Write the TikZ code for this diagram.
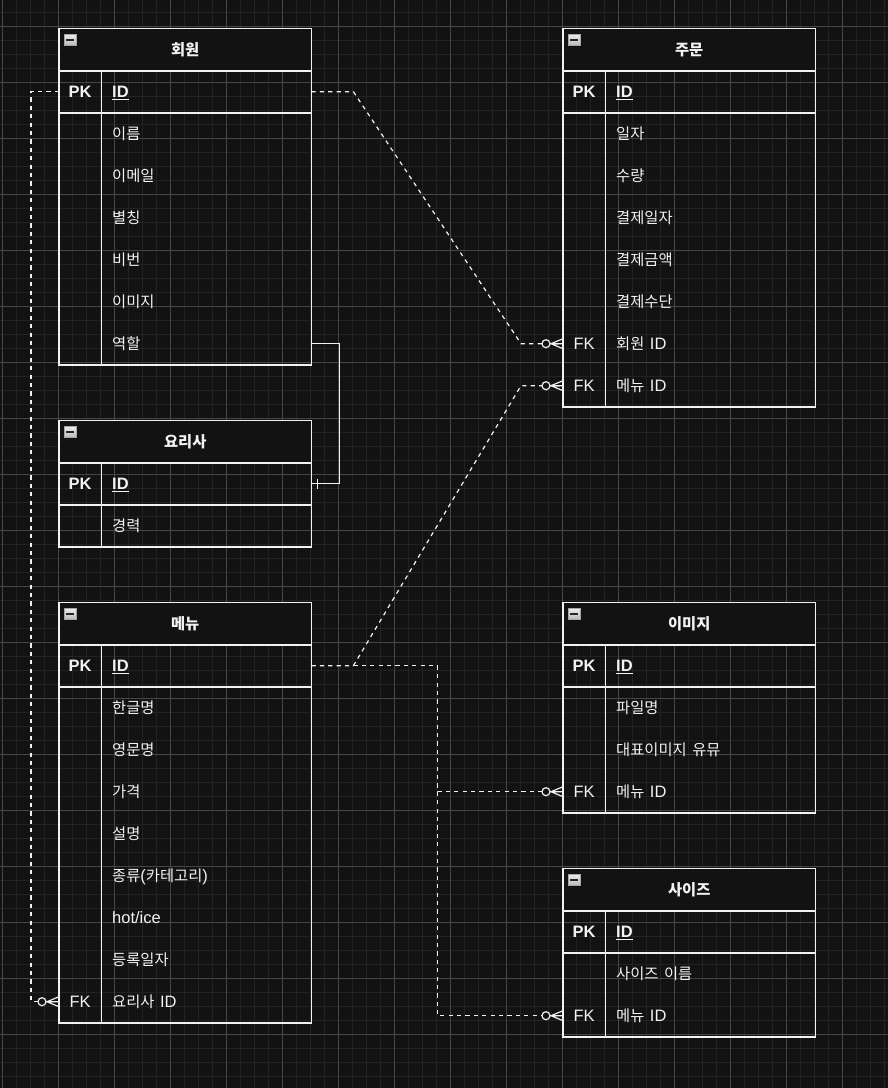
\documentclass[tikz,border=0pt]{standalone}
\usepackage{fontspec}
\setmainfont{Liberation Sans}
\newfontfamily\kr{Noto Sans CJK KR}[Scale=0.93]
\newcommand\K[1]{{\kr #1}}
\usetikzlibrary{calc}
\definecolor{bg}{HTML}{121212}
\definecolor{gmin}{HTML}{222222}
\definecolor{gmaj}{HTML}{464646}
\definecolor{ink}{HTML}{F2F2F2}
\tikzset{
  hdr/.style={rectangle, fill=bg, minimum width=252pt, minimum height=42pt, anchor=north west,
    inner sep=0pt, font=\fontsize{16.5}{18}\selectfont\bfseries, text=ink, text height=13pt, text depth=1pt},
  keyc/.style={rectangle, minimum width=42pt, minimum height=42pt, inner sep=0pt, anchor=north west,
    font=\fontsize{16.5}{18}\selectfont, text=ink, text height=13pt, text depth=1pt},
  fld/.style={rectangle, minimum width=210pt, minimum height=42pt, inner xsep=11pt, inner ysep=0pt,
    text width=188pt, align=left, anchor=north west,
    font=\fontsize{16.5}{18}\selectfont, text=ink, text height=13pt, text depth=1pt},
  tline/.style={draw=ink, line width=1.3pt},
  conn/.style={draw=ink, line width=1.2pt, dash pattern=on 4.2pt off 4.2pt},
  rel/.style={draw=ink, line width=1.2pt},
  ic/.style={rectangle, minimum width=12pt, minimum height=11pt, inner sep=0pt, draw=gray!70,
    line width=0.6pt, top color=gray!15, bottom color=gray!55,
    path picture={\draw[line width=1.8pt, black!85]
      ([xshift=-3.6pt]path picture bounding box.center) -- ([xshift=3.6pt]path picture bounding box.center);}},
}
\newcommand\erow[5]{\node[keyc] (#1k) at (#2,#3) {#4};\node[fld] (#1) at (#2+42,#3) {#5};}
\newcommand\etab[4]{\node[hdr] (#1) at (#2,#3) {#4};\node[ic] (#1ic) at (#2+11,#3+11.5) {};}
\newcommand\eframe[3]{%
  \draw[tline] (#1.north west) rectangle (#3.south east);
  \draw[tline] (#1.south west) -- (#1.south east);
  \draw[tline] (#2k.north east) -- (#3k.south east);
  \draw[tline] (#2k.south west) -- (#2.south east);}
\newcommand\zmany[1]{%
  \draw[rel] ($(#1)+(-13,0)$) -- (#1) ($(#1)+(-12,0)$) -- ($(#1)+(0,5)$) ($(#1)+(-12,0)$) -- ($(#1)+(0,-5)$);
  \draw[rel, fill=bg] ($(#1)+(-17,0)$) circle (4pt);}
\newcommand\PKID{{\bfseries\underline{ID}}}
\begin{document}
\begin{tikzpicture}[x=1pt, y=-1pt]
\useasboundingbox (0,0) rectangle (888,1088);
\fill[bg] (0,0) rectangle (888,1088);
\foreach \x in {2,16,...,884} \draw[gmin, line width=1pt] (\x,0) -- (\x,1088);
\foreach \y in {12,26,...,1076} \draw[gmin, line width=1pt] (0,\y) -- (888,\y);
\foreach \x in {2,58,...,842} \draw[gmaj, line width=1pt] (\x,0) -- (\x,1088);
\foreach \y in {26,82,...,1034} \draw[gmaj, line width=1pt] (0,\y) -- (888,\y);

% ---- 회원
\etab{u}{59}{28.5}{\K{회원}}
\erow{u1}{59}{70.5}{\bfseries PK}{\PKID}
\erow{u2}{59}{112.5}{}{\K{이름}}
\erow{u3}{59}{154.5}{}{\K{이메일}}
\erow{u4}{59}{196.5}{}{\K{별칭}}
\erow{u5}{59}{238.5}{}{\K{비번}}
\erow{u6}{59}{280.5}{}{\K{이미지}}
\erow{u7}{59}{322.5}{}{\K{역할}}
\eframe{u}{u1}{u7}

% ---- 요리사
\etab{c}{59}{420.5}{\K{요리사}}
\erow{c1}{59}{462.5}{\bfseries PK}{\PKID}
\erow{c2}{59}{504.5}{}{\K{경력}}
\eframe{c}{c1}{c2}

% ---- 메뉴
\etab{m}{59}{602.5}{\K{메뉴}}
\erow{m1}{59}{644.5}{\bfseries PK}{\PKID}
\erow{m2}{59}{686.5}{}{\K{한글명}}
\erow{m3}{59}{728.5}{}{\K{영문명}}
\erow{m4}{59}{770.5}{}{\K{가격}}
\erow{m5}{59}{812.5}{}{\K{설명}}
\erow{m6}{59}{854.5}{}{\K{종류}(\K{카테고리})}
\erow{m7}{59}{896.5}{}{hot/ice}
\erow{m8}{59}{938.5}{}{\K{등록일자}}
\erow{m9}{59}{980.5}{FK}{\K{요리사} ID}
\eframe{m}{m1}{m9}

% ---- 주문
\etab{o}{563}{28.5}{\K{주문}}
\erow{o1}{563}{70.5}{\bfseries PK}{\PKID}
\erow{o2}{563}{112.5}{}{\K{일자}}
\erow{o3}{563}{154.5}{}{\K{수량}}
\erow{o4}{563}{196.5}{}{\K{결제일자}}
\erow{o5}{563}{238.5}{}{\K{결제금액}}
\erow{o6}{563}{280.5}{}{\K{결제수단}}
\erow{o7}{563}{322.5}{FK}{\K{회원} ID}
\erow{o8}{563}{364.5}{FK}{\K{메뉴} ID}
\eframe{o}{o1}{o8}

% ---- 이미지
\etab{i}{563}{602.5}{\K{이미지}}
\erow{i1}{563}{644.5}{\bfseries PK}{\PKID}
\erow{i2}{563}{686.5}{}{\K{파일명}}
\erow{i3}{563}{728.5}{}{\K{대표이미지 유뮤}}
\erow{i4}{563}{770.5}{FK}{\K{메뉴} ID}
\eframe{i}{i1}{i4}

% ---- 사이즈
\etab{s}{563}{868.5}{\K{사이즈}}
\erow{s1}{563}{910.5}{\bfseries PK}{\PKID}
\erow{s2}{563}{952.5}{}{\K{사이즈 이름}}
\erow{s3}{563}{994.5}{FK}{\K{메뉴} ID}
\eframe{s}{s1}{s3}

% ---- connectors
\draw[conn] (u1.east) -- ++(42,0) -- ($(o7k.west)+(-42,0)$) -- (o7k.west);
\draw[conn] (m1.east) -- ++(42,0) -- ($(o8k.west)+(-42,0)$) -- (o8k.west);
\draw[conn] (m1.east) -- ++(126,0) |- (i4k.west);
\draw[conn] (m1.east) -- ++(126,0) |- (s3k.west);
\draw[conn] (u1k.west) -- ++(-28,0) |- (m9k.west);
\draw[rel] (u7.east) -- ++(28,0) |- (c1.east);
\draw[rel] ($(c1.east)+(6,-5)$) -- ($(c1.east)+(6,5)$);
\zmany{o7k.west}
\zmany{o8k.west}
\zmany{i4k.west}
\zmany{s3k.west}
\zmany{m9k.west}
\end{tikzpicture}
\end{document}
